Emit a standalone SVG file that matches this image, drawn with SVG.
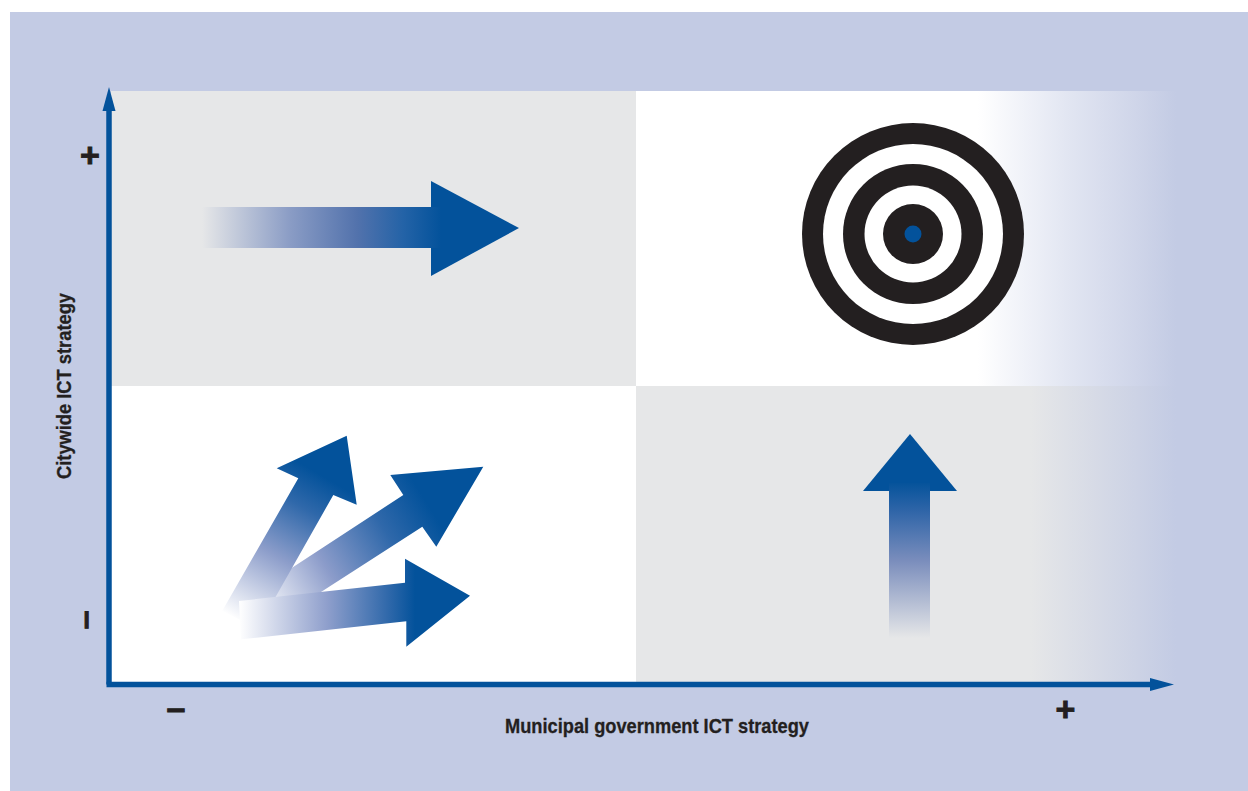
<svg xmlns="http://www.w3.org/2000/svg" width="1248" height="791" viewBox="0 0 1248 791">
<style>
.lbl{font-family:"Liberation Sans",Arial,sans-serif;font-weight:700;fill:#231f20;stroke:#231f20;stroke-width:.3}
.sym{stroke-width:.9}
.axis{fill:none;stroke:#03529b;stroke-width:5.5}
.head{fill:#03529b}
.ring{fill:#231f20}
.hole{fill:#fff}
</style>
<defs>
<linearGradient id="fadeWhite" gradientUnits="userSpaceOnUse" x1="978" y1="0" x2="1176" y2="0">
<stop offset="0" stop-color="#fff"/><stop offset="0.45" stop-color="#e2e6f2"/><stop offset="0.8" stop-color="#cfd5e9"/><stop offset="1" stop-color="#c3cbe4"/>
</linearGradient>
<linearGradient id="fadeGray" gradientUnits="userSpaceOnUse" x1="1030" y1="0" x2="1176" y2="0">
<stop offset="0" stop-color="#e6e7e8"/><stop offset="1" stop-color="#c3cbe4"/>
</linearGradient>
<linearGradient id="gRight" gradientUnits="userSpaceOnUse" x1="202" y1="0" x2="441" y2="0">
<stop offset="0" stop-color="#e6e7e8"/><stop offset="0.37" stop-color="#8a9cc5"/><stop offset="0.65" stop-color="#5272ac"/><stop offset="0.84" stop-color="#2463a7"/><stop offset="1" stop-color="#03529b"/>
</linearGradient>
<linearGradient id="gUp" gradientUnits="userSpaceOnUse" x1="0" y1="638" x2="0" y2="483">
<stop offset="0" stop-color="#e6e7e8"/><stop offset="0.5" stop-color="#7a8dbc"/><stop offset="0.82" stop-color="#2f65a8"/><stop offset="1" stop-color="#05539b"/>
</linearGradient>
<linearGradient id="gA" gradientUnits="userSpaceOnUse" x1="228" y1="615" x2="312" y2="470">
<stop offset="0" stop-color="#fff"/><stop offset="0.45" stop-color="#8c9dca"/><stop offset="0.78" stop-color="#2f68aa"/><stop offset="1" stop-color="#03529b"/>
</linearGradient>
<linearGradient id="gB" gradientUnits="userSpaceOnUse" x1="255" y1="605" x2="425" y2="500">
<stop offset="0" stop-color="#fff"/><stop offset="0.4" stop-color="#8c9cca"/><stop offset="0.75" stop-color="#2f68aa"/><stop offset="1" stop-color="#03529b"/>
</linearGradient>
<linearGradient id="gC" gradientUnits="userSpaceOnUse" x1="239" y1="0" x2="415" y2="0">
<stop offset="0" stop-color="#fff"/><stop offset="0.5" stop-color="#8f9fcc"/><stop offset="0.85" stop-color="#2f68aa"/><stop offset="1" stop-color="#03529b"/>
</linearGradient>
</defs>

<rect x="10" y="12" width="1238" height="779" fill="#c3cbe4"/>

<g id="quadrants">
<rect x="111" y="91" width="525" height="295" fill="#e6e7e8"/>
<rect x="636" y="91" width="342" height="295" fill="#fff"/>
<rect x="978" y="91" width="198" height="295" fill="url(#fadeWhite)"/>
<rect x="111" y="386" width="525" height="296" fill="#fff"/>
<rect x="636" y="386" width="394" height="296" fill="#e6e7e8"/>
<rect x="1030" y="386" width="146" height="296" fill="url(#fadeGray)"/>
</g>

<g id="arrow-right">
<path class="head" d="M431 181L519 228L431 276Z"/>
<rect x="202" y="207" width="239" height="41" fill="url(#gRight)"/>
</g>

<g id="target">
<circle class="ring" cx="913" cy="234" r="111"/>
<circle class="hole" cx="913" cy="234" r="90"/>
<circle class="ring" cx="913" cy="234" r="70"/>
<circle class="hole" cx="913" cy="234" r="48.500"/>
<circle class="ring" cx="913" cy="234" r="30"/>
<circle class="head" cx="913" cy="234" r="8.500"/>
</g>

<g id="arrow-up">
<path class="head" d="M863 491L910 434L957 491Z"/>
<rect x="889" y="483" width="41" height="155" fill="url(#gUp)"/>
</g>

<g id="arrow-burst-b">
<path d="M258 590L403.300 495L390.300 475L483.300 466.700L436.300 546.700L422.300 526.700L262 630Z" fill="url(#gB)"/>
</g>
<g id="arrow-burst-a">
<path d="M222.300 610.700L298.300 478.300L276.700 468.300L346.700 435.700L356.700 504.700L333.300 495L258 628L240 620Z" fill="url(#gA)"/>
</g>
<g id="arrow-burst-c">
<path d="M239 601L405 582.700V558.700L470 595.700L406.300 646.700V621.300L241 639.300Z" fill="url(#gC)"/>
</g>

<g id="connectors">
<path class="axis" d="M109 684.500V108"/>
<path class="head" d="M109 87L115.500 111H102.500Z"/>
<path class="axis" d="M106.500 684.500H1153"/>
<path class="head" d="M1174 684.500L1150 691V678Z"/>
</g>

<g id="labels">
<text class="lbl" x="505" y="733" font-size="20.500" textLength="304" lengthAdjust="spacingAndGlyphs">Municipal government ICT strategy</text>
<text class="lbl" transform="translate(71 479) rotate(-90)" font-size="20.500" textLength="186" lengthAdjust="spacingAndGlyphs">Citywide ICT strategy</text>
<text class="lbl sym" x="90" y="167" font-size="34" text-anchor="middle">+</text>
<text class="lbl sym" x="1065.500" y="721" font-size="34" text-anchor="middle">+</text>
<text class="lbl sym" x="176" y="719" font-size="34" text-anchor="middle">–</text>
<text class="lbl sym" transform="translate(89 620) rotate(90)" y="11.500" font-size="34" text-anchor="middle">–</text>
</g>
</svg>
